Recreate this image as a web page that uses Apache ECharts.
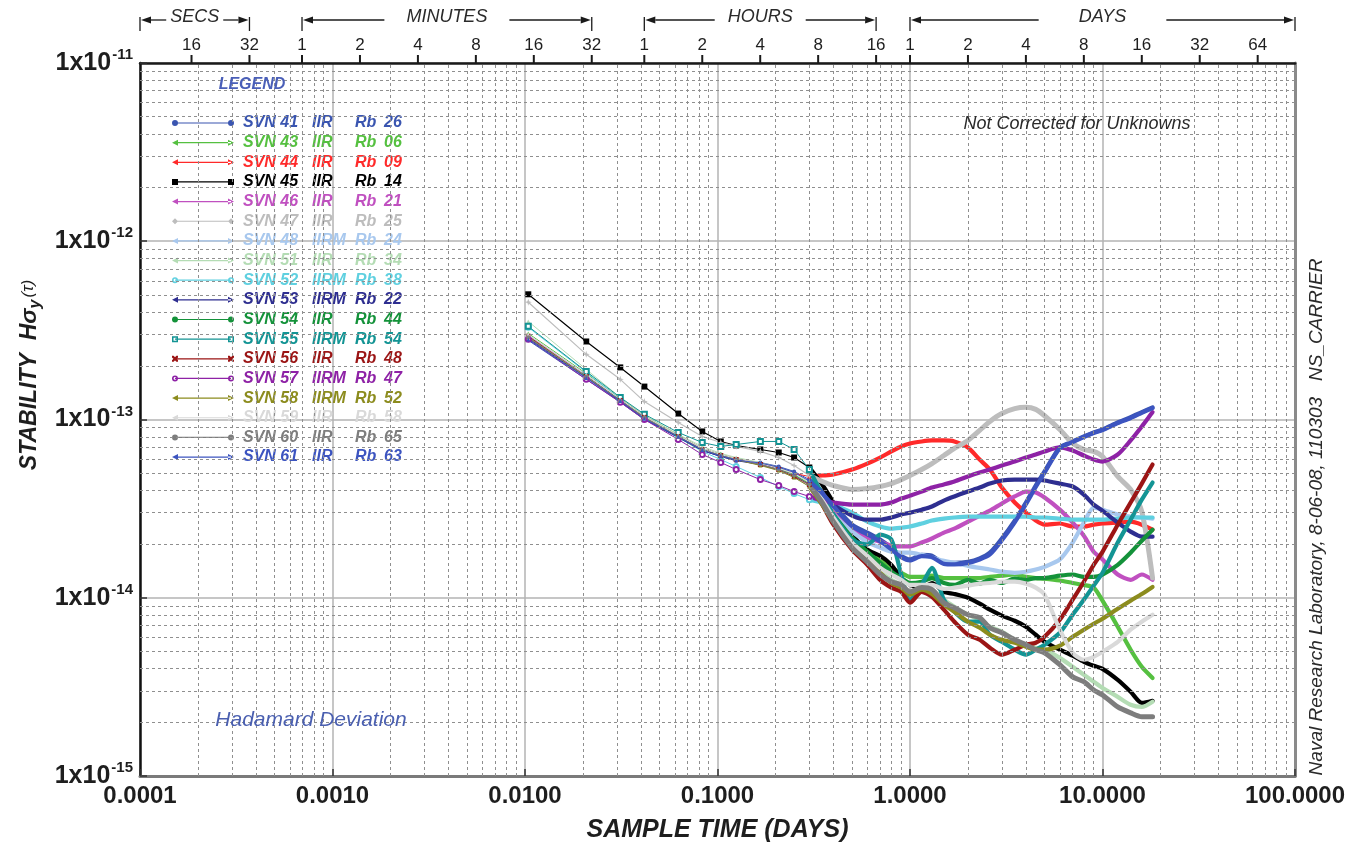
<!DOCTYPE html>
<html>
<head>
<meta charset="utf-8">
<title>Hadamard Deviation – GPS Rb clocks</title>
<script src="https://cdn.jsdelivr.net/npm/echarts@6/dist/echarts.min.js"></script>
<style>
  html, body { margin: 0; padding: 0; background: #ffffff; }
  #chart { width: 1351px; height: 848px; }
</style>
</head>
<body>
<div id="chart"></div>
<script>
// ---------------------------------------------------------------------------
// Data: Hadamard deviation per satellite clock, in units of 1e-15,
// sampled at the averaging times in TAU (days).
// ---------------------------------------------------------------------------
const UNIT = 1e-15;

const TAU = [0.0104, 0.0208, 0.03125, 0.0417, 0.0625, 0.0833, 0.104, 0.125, 0.167, 0.208, 0.25,
             0.3, 0.35, 0.4, 0.5, 0.6, 0.7, 0.8, 0.9, 1.0, 1.15,
             1.3, 1.5, 1.7, 2.0, 2.3, 2.6, 3.0, 3.5, 4.0, 4.5,
             5.0, 6.0, 7.0, 8.0, 9.0, 10, 12, 14, 16, 18.2];
// index in TAU where the densely sampled part of each curve begins
const DENSE_FROM = 11;

const SVN   = ['41', '43', '44', '45', '46', '47', '48', '51', '52', '53', '54', '55', '56', '57', '58', '59', '60', '61'];
const BLOCK = ['IIR', 'IIR', 'IIR', 'IIR', 'IIR', 'IIR', 'IIRM', 'IIR', 'IIRM', 'IIRM', 'IIR', 'IIRM', 'IIR', 'IIRM', 'IIRM', 'IIR', 'IIR', 'IIR'];
const RB    = ['26', '06', '09', '14', '21', '25', '24', '34', '38', '22', '44', '54', '48', '47', '52', '58', '65', '63'];

const svn41 = [278,168,125,100,79.3,67.0,62.0,58.8,57.4,54.5,51.1, 46.0,39.4,33.3,25.7,23.2,21.2,19.1,17.2,16.4,17.4, 17.2,15.7,15.7,15.9,16.6,17.9,21.5,27.1,34.2,42.6, 51.1,69.7,75.3,80.3,84.6,87.9,96.3,103,110,117];
const svn43 = [304,181,131,105,82.4,68.8,63.6,60.4,56.6,53.1,49.1, 43.7,35.5,29.3,21.7,18.6,16.4,14.7,13.8,13.1,13.1, 13.3,12.9,12.9,12.9,12.9,13.1,13.3,13.5,13.1,12.9, 12.8,12.5,12.1,11.8,11.4,9.63,6.88,5.11,4.10,3.55];
const svn44 = [297,177,130,104,81.4,68.8,63.6,60.4,56.6,53.8,49.8, 47.9,48.5,49.1,52.4,56.6,61.2,66.2,70.6,73.4,75.3, 76.3,76.3,75.3,69.7,59.6,52.4,41.5,34.2,30.0,27.1, 25.7,26.1,25.1,25.1,25.7,26.1,26.4,26.7,25.7,24.1];
const svn45 = [504,274,196,153,108,85.7,75.3,71.5,67.9,65.3,61.2, 53.8,43.2,34.2,22.6,18.6,17.2,15.3,12.9,11.8,11.4, 12.1,10.8,10.5,10.0,9.26,8.57,7.93,7.43,6.88,6.20, 5.66,5.11,4.73,4.37,4.15,3.99,3.46,2.97,2.57,2.64];
const svn46 = [289,174,128,103,80.3,67.9,62.8,59.6,55.9,52.4,47.9, 42.1,35.5,30.0,24.1,21.7,20.6,19.6,19.4,19.4,20.4, 21.5,23.2,24.4,26.7,28.9,30.8,33.8,37.0,39.4,38.9, 36.5,31.2,26.4,22.3,18.1,16.4,13.5,12.6,13.5,12.6];
const svn47 = [455,232,168,126,96.3,80.3,74.3,70.6,66.2,61.2,55.2, 48.5,44.9,42.6,40.5,41.0,42.1,43.7,46.0,48.5,52.4, 56.6,62.8,68.8,76.3,86.8,97.5,108,115,117,114, 105,87.9,73.4,67.9,66.2,62.0,47.9,40.5,30.4,12.9];
const svn48 = [297,177,130,104,81.4,68.8,63.6,59.6,55.9,51.7,47.3, 42.1,34.6,29.3,23.5,20.6,19.1,18.1,17.9,17.9,17.4, 16.8,16.1,15.7,15.1,14.7,14.4,14.0,13.8,14.0,14.4, 14.9,16.4,20.4,26.4,32.0,31.2,29.3,28.5,28.2,27.8];
const svn51 = [355,191,133,105,82.4,70.6,64.5,61.2,57.4,53.8,49.8, 44.3,35.5,27.4,19.9,16.4,14.0,12.6,11.8,10.8,11.4, 11.1,9.75,8.91,8.03,7.53,6.88,6.45,5.81,5.45,5.24, 5.11,4.60,4.10,3.70,3.38,3.12,2.78,2.51,2.44,2.61];
const svn52 = [329,184,130,103,79.3,66.2,59.6,54.5,47.3,42.1,38.4, 35.5,34.2,33.3,30.0,26.7,25.1,24.4,24.7,25.1,26.1, 27.1,27.8,28.2,28.5,28.5,28.5,28.5,28.5,28.5,28.2, 28.2,27.8,27.4,27.4,27.4,27.4,27.8,28.2,28.2,28.2];
const svn53 = [285,172,126,101,79.3,67.0,62.0,58.8,55.9,52.4,48.5, 43.2,37.9,33.3,28.9,27.4,27.4,28.2,29.3,30.0,31.2, 32.5,35.1,37.0,39.4,41.5,43.7,45.5,46.0,46.0,46.0, 45.5,43.7,42.1,37.9,33.3,30.8,26.4,23.5,22.0,22.0];
const svn54 = [289,174,128,103,80.3,67.9,63.6,59.6,55.9,52.4,48.5, 43.2,35.5,29.3,21.7,18.1,15.7,14.0,12.9,12.1,12.3, 12.9,12.1,11.8,12.6,12.0,12.6,12.1,12.8,12.6,12.9, 12.9,13.3,13.5,13.1,13.1,13.5,15.3,17.9,20.9,24.1];
const svn55 = [333,186,133,107,84.6,74.3,70.6,72.4,75.3,75.3,67.9, 52.4,37.9,29.3,21.2,19.9,22.6,21.2,13.5,9.75,11.8, 14.7,9.75,8.35,7.34,7.34,6.20,5.66,5.11,4.79,5.11, 5.45,6.36,8.03,9.75,11.7,13.8,20.4,27.4,35.5,44.3];
const svn56 = [293,174,128,103,80.3,67.9,62.8,59.6,55.9,52.4,47.9, 43.2,33.3,25.7,18.6,15.3,12.6,11.4,10.8,9.38,10.8, 10.1,8.57,7.34,6.20,5.81,5.24,4.79,5.11,5.45,5.59, 6.04,7.53,9.75,12.3,15.3,18.1,25.7,34.2,43.7,55.9];
const svn57 = [282,168,125,100,77.3,63.6,57.4,52.4,46.0,42.6,39.4, 37.0,35.1,34.2,33.3,33.3,33.3,34.2,36.0,37.4,39.4, 41.5,43.2,44.9,47.9,50.4,52.4,55.2,58.1,61.2,63.6, 66.2,69.7,67.0,62.8,59.6,58.1,63.6,76.3,91.4,110];
const svn58 = [289,174,128,103,80.3,67.9,62.8,59.6,55.2,51.7,47.3, 42.1,33.3,26.7,19.9,16.4,13.8,12.1,11.4,10.4,11.1, 10.5,9.14,8.35,7.34,6.79,6.20,5.81,5.59,5.31,5.11, 5.11,5.38,6.04,6.62,7.15,7.63,8.68,9.63,10.5,11.5];
const svn59 = [300,179,130,104,81.4,68.8,63.6,60.4,56.6,53.1,49.8, 44.9,35.5,28.2,20.4,17.2,14.7,13.5,12.6,11.8,11.8, 11.8,11.2,11.4,11.7,12.0,12.1,12.3,12.3,12.0,11.4, 10.4,6.62,4.91,4.49,4.66,4.98,5.66,6.62,7.34,8.03];
const svn60 = [289,174,128,103,80.3,67.9,62.8,59.6,55.9,52.4,48.5, 43.2,34.2,26.7,19.1,15.9,13.5,12.3,11.8,10.8,11.4, 11.1,9.38,8.79,8.03,7.73,6.79,6.36,5.81,5.45,5.11, 4.91,4.21,3.60,3.38,3.04,2.85,2.44,2.26,2.15,2.15];
const svn61 = [281,171,127,101,80.0,67.5,62.5,59.2,57.0,54.0,50.5, 45.2,38.6,32.6,25.2,22.7,20.7,18.7,16.9,16.2,17.1, 16.9,15.5,15.4,15.7,16.4,17.5,21.0,26.5,33.5,41.8, 50.3,69.0,74.8,79.8,84.0,87.3,95.5,102,109,116];

const VALUES = [svn41, svn43, svn44, svn45, svn46, svn47, svn48, svn51, svn52, svn53,
                svn54, svn55, svn56, svn57, svn58, svn59, svn60, svn61];

// Upper scale: sample time in seconds, minutes, hours and days
const TOP_SECS  = [16, 32];
const TOP_MINS  = [1, 2, 4, 8, 16, 32];
const TOP_HOURS = [1, 2, 4, 8, 16];
const TOP_DAYS  = [1, 2, 4, 8, 16, 32, 64];

// ---------------------------------------------------------------------------
// Styling
// ---------------------------------------------------------------------------
const FONT = "'Liberation Sans', Arial, Helvetica, sans-serif";

const COLORS = ['#3a55b0', '#55c040', '#ff2a2a', '#000000', '#c050c0', '#bdbdbd', '#a8c8ee', '#b4dcb4', '#5fd0e0',
                '#2e2e90', '#14923a', '#139494', '#9b1515', '#8e22a6', '#8c8c1e', '#d9d9d9', '#7d7d7d', '#3c54c0'];
const MARKS  = ['dot', 'tri', 'tri', 'square', 'tri', 'star', 'tri', 'tri', 'ringC',
                'tri', 'dot', 'ringS', 'cross', 'ringC', 'tri', 'tri', 'dot', 'tri'];

const ringCircle = (ox) => `M${ox},3A3,3 0 1,1 ${ox + 6},3A3,3 0 1,1 ${ox},3Z M${ox + 1.6},3A1.4,1.4 0 1,0 ${ox + 4.4},3A1.4,1.4 0 1,0 ${ox + 1.6},3Z`;
const ringSquare = (ox) => `M${ox},0H${ox + 6}V6H${ox}Z M${ox + 1.5},1.5V4.5H${ox + 4.5}V1.5Z`;
const crossMark  = (ox) => `M${ox},0H${ox + 1.6}L${ox + 6},4.4V6H${ox + 4.4}L${ox},1.6Z M${ox + 6},0V1.6L${ox + 1.6},6H${ox}V4.4L${ox + 4.4},0Z`;

const MARK_STYLE = {
  dot:    { symbol: 'circle', size: 4, ends: 'M0,3A3,3 0 1,1 6,3A3,3 0 1,1 0,3Z M56,3A3,3 0 1,1 62,3A3,3 0 1,1 56,3Z' },
  tri:    { symbol: 'triangle', size: 4, ends: 'M0,3L6,0V6Z M62,3L56,0V6Z' },
  square: { symbol: 'rect', size: 6, ends: 'M0,0H6V6H0Z M56,0H62V6H56Z' },
  star:   { symbol: 'path://M5,0L6.2,3.8L10,5L6.2,6.2L5,10L3.8,6.2L0,5L3.8,3.8Z', size: 7, ends: 'M0,3L3,0L6,3L3,6Z M56,3L59,0L62,3L59,6Z' },
  ringC:  { symbol: 'emptyCircle', size: 5, ends: ringCircle(0) + ' ' + ringCircle(56) },
  ringS:  { symbol: 'emptyRect', size: 5, ends: ringSquare(0) + ' ' + ringSquare(56) },
  cross:  { symbol: 'path://' + crossMark(0), size: 5, ends: crossMark(0) + ' ' + crossMark(56) }
};
const LEGEND_BAR = 'M3,2.4H59V3.6H3Z ';

const NAMES = SVN.map((s, i) => `SVN ${s} ${BLOCK[i]} Rb ${RB[i]}`);

// ---------------------------------------------------------------------------
// Series
// ---------------------------------------------------------------------------
const minorX = [];
for (let e = -4; e < 2; e++) for (let k = 2; k <= 9; k++) minorX.push(k * Math.pow(10, e));
const minorY = [];
for (let e = -15; e < -11; e++) for (let k = 2; k <= 9; k++) minorY.push(k * Math.pow(10, e));

const series = [{
  type: 'line',
  name: 'minor grid',
  data: [],
  silent: true,
  z: 1,
  markLine: {
    silent: true,
    animation: false,
    precision: 20,
    symbol: ['none', 'none'],
    label: { show: false },
    lineStyle: { type: [3, 3], color: '#8f8f8f', width: 1 },
    emphasis: { disabled: true },
    data: minorX.map(v => ({ xAxis: v })).concat(minorY.map(v => ({ yAxis: v })))
  }
}];

VALUES.forEach((vals, i) => {
  const pts = vals.map((v, k) => [TAU[k], v * UNIT]);
  const m = MARK_STYLE[MARKS[i]];
  const color = COLORS[i];
  const isBig = (SVN[i] === '45' || SVN[i] === '47');
  // sparse, individually marked part
  series.push({
    type: 'line', name: NAMES[i], z: 3,
    data: pts.slice(0, DENSE_FROM + 1),
    symbol: m.symbol, symbolSize: m.size, showSymbol: true,
    lineStyle: { color, width: isBig ? 1.2 : 1 },
    itemStyle: { color, borderWidth: 1 },
    emphasis: { disabled: true }
  });
  // densely sampled part (overlapping markers read as a thick trace)
  series.push({
    type: 'line', name: NAMES[i], z: 3,
    data: pts.slice(DENSE_FROM),
    showSymbol: false, symbol: 'none', smooth: 0.25,
    lineStyle: { color, width: (SVN[i] === '47' || SVN[i] === '60') ? 5 : 4.2, cap: 'round', join: 'round' },
    itemStyle: { color },
    emphasis: { disabled: true }
  });
});

// Legend text columns, one rich style set per entry so every entry keeps its colour
const legendRich = {};
NAMES.forEach((n, i) => {
  const base = { fontSize: 16, fontWeight: 'bold', fontStyle: 'italic', fontFamily: FONT, color: COLORS[i], lineHeight: 14 };
  legendRich['a' + i] = Object.assign({ width: 69, padding: [0, 0, 0, 4] }, base);
  legendRich['b' + i] = Object.assign({ width: 43 }, base);
  legendRich['c' + i] = Object.assign({ width: 29 }, base);
  legendRich['d' + i] = Object.assign({}, base);
});

const option = {
  animation: false,
  backgroundColor: '#ffffff',
  grid: { left: 140, right: 56, top: 63, bottom: 72, containLabel: false, outerBoundsMode: 'none' },
  legend: {
    orient: 'vertical', left: 172, top: 115, padding: 0,
    itemWidth: 62, itemHeight: 6, itemGap: 3.65,
    selectedMode: false,
    itemStyle: { borderWidth: 0 },
    data: NAMES.map((n, i) => ({ name: n, icon: 'path://' + LEGEND_BAR + MARK_STYLE[MARKS[i]].ends })),
    formatter: name => {
      const i = NAMES.indexOf(name);
      return `{a${i}|SVN ${SVN[i]}}{b${i}|${BLOCK[i]}}{c${i}|Rb}{d${i}|${RB[i]}}`;
    },
    textStyle: { fontSize: 16, fontWeight: 'bold', fontStyle: 'italic', fontFamily: FONT, lineHeight: 14, rich: legendRich }
  },
  xAxis: [{
    type: 'log', logBase: 10, min: 1e-4, max: 100, splitNumber: 6, position: 'bottom',
    axisLine: { show: true, onZero: false, lineStyle: { color: '#7a7a7a', width: 3 } },
    axisTick: { show: true, inside: true, length: 7, lineStyle: { color: '#333', width: 1.5 } },
    axisLabel: { formatter: v => v.toFixed(4), fontSize: 24, fontWeight: 'bold', color: '#1e1e1e', fontFamily: FONT, margin: 8 },
    splitLine: { show: true, lineStyle: { color: '#b3b3b3', width: 1.5 } },
    name: 'SAMPLE TIME (DAYS)', nameLocation: 'middle', nameGap: 42, nameMoveOverlap: false,
    nameTextStyle: { fontSize: 25, fontWeight: 'bold', fontStyle: 'italic', color: '#1e1e1e', fontFamily: FONT }
  }, {
    type: 'log', logBase: 10, min: 1e-4, max: 100, position: 'top',
    axisLine: { show: true, onZero: false, lineStyle: { color: '#1a1a1a', width: 2.5 } },
    axisTick: { show: false }, axisLabel: { show: false }, splitLine: { show: false }
  }],
  yAxis: [{
    type: 'log', logBase: 10, min: 1e-15, max: 1e-11, splitNumber: 4,
    axisLine: { show: true, onZero: false, lineStyle: { color: '#111', width: 2.5 } },
    axisTick: { show: true, inside: true, length: 7, lineStyle: { color: '#333', width: 1.5 } },
    axisLabel: {
      margin: 7,
      formatter: v => `{m|1x10}{e|${Math.round(Math.log10(v))}}`,
      rich: {
        m: { fontSize: 25, fontWeight: 'bold', color: '#1e1e1e', fontFamily: FONT },
        e: { fontSize: 15, fontWeight: 'bold', color: '#1e1e1e', fontFamily: FONT, padding: [0, 0, 16, 1] }
      }
    },
    splitLine: { show: true, lineStyle: { color: '#b3b3b3', width: 1.5 } }
  }, {
    type: 'log', logBase: 10, min: 1e-15, max: 1e-11, position: 'right',
    axisLine: { show: true, onZero: false, lineStyle: { color: '#8a8a8a', width: 3 } },
    axisTick: { show: false }, axisLabel: { show: false }, splitLine: { show: false }
  }],
  series
};

const chart = echarts.init(document.getElementById('chart'), null, { renderer: 'canvas' });
chart.setOption(option);

// ---------------------------------------------------------------------------
// Upper time scale, brackets and annotations
// ---------------------------------------------------------------------------
const xp = v => chart.convertToPixel({ xAxisIndex: 0 }, v);
const yp = v => chart.convertToPixel({ yAxisIndex: 0 }, v);
const topY = yp(1e-11);

const measure = (() => {
  const ctx = document.createElement('canvas').getContext('2d');
  return (text, font) => { ctx.font = font; return ctx.measureText(text).width; };
})();

const topTicks = []
  .concat(TOP_SECS.map(s => ({ days: s / 86400, label: String(s) })))
  .concat(TOP_MINS.map(m => ({ days: m / 1440, label: String(m) })))
  .concat(TOP_HOURS.map(h => ({ days: h / 24, label: String(h) })))
  .concat(TOP_DAYS.map(d => ({ days: d, label: String(d) })));

const SPANS = [
  { label: 'SECS',    from: 1e-4,   to: 32 / 86400, gap: 4 },
  { label: 'MINUTES', from: 1 / 1440, to: 32 / 1440, gap: 22 },
  { label: 'HOURS',   from: 1 / 24,  to: 16 / 24,   gap: 13 },
  { label: 'DAYS',    from: 1,       to: 100,       gap: 40 }
];

const g = [];
const lineEl = (x1, y1, x2, y2, w, c) => ({ type: 'line', silent: true, z: 10,
  shape: { x1, y1, x2, y2 }, style: { stroke: c || '#1a1a1a', lineWidth: w || 1.3 } });
const textEl = (x, y, text, font, fill, extra) => Object.assign({ type: 'text', silent: true, z: 10, x, y,
  style: { text, font, fill: fill || '#1e1e1e', align: 'center', verticalAlign: 'middle' } }, extra || {});

topTicks.forEach(t => {
  const x = xp(t.days);
  g.push(lineEl(x, topY - 8, x, topY, 2));
  g.push(textEl(x, 45, t.label, `17px ${FONT}`));
});

const spanFont = `italic 18px ${FONT}`;
SPANS.forEach(s => {
  const xl = xp(s.from), xr = xp(s.to), cx = (xl + xr) / 2, ay = 20;
  const w = measure(s.label, spanFont);
  g.push(lineEl(xl, 17, xl, 31, 1.3));
  g.push(lineEl(xr, 17, xr, 31, 1.3));
  g.push({ type: 'polygon', silent: true, z: 10, shape: { points: [[xl + 1, ay], [xl + 11, ay - 3.5], [xl + 11, ay + 3.5]] }, style: { fill: '#1a1a1a' } });
  g.push({ type: 'polygon', silent: true, z: 10, shape: { points: [[xr - 1, ay], [xr - 11, ay - 3.5], [xr - 11, ay + 3.5]] }, style: { fill: '#1a1a1a' } });
  g.push(lineEl(xl + 11, ay, cx - w / 2 - s.gap, ay, 1.3));
  g.push(lineEl(cx + w / 2 + s.gap, ay, xr - 11, ay, 1.3));
  g.push(textEl(cx, 17, s.label, spanFont, '#2a2a2a'));
});

// legend heading and notes
g.push(textEl(252, 85, 'LEGEND', `italic bold 16px ${FONT}`, '#4a5fb8'));
g.push(textEl(1077, 124, 'Not Corrected for Unknowns', `italic 18px ${FONT}`, '#2a2a2a'));
g.push(textEl(311, 720, 'Hadamard Deviation', `italic 21px ${FONT}`, '#4a5fb0'));

// y-axis title
g.push({
  type: 'text', silent: true, z: 10, x: 30, y: 375, rotation: Math.PI / 2,
  style: {
    text: '{a|STABILITY  Hσ}{b|y}{c|(τ)}',
    align: 'center', verticalAlign: 'middle',
    rich: {
      a: { fontSize: 23, fontWeight: 'bold', fontStyle: 'italic', fontFamily: FONT, fill: '#1e1e1e' },
      b: { fontSize: 16, fontWeight: 'bold', fontStyle: 'italic', fontFamily: FONT, fill: '#1e1e1e', padding: [12, 0, 0, 0] },
      c: { fontSize: 17, fontStyle: 'italic', fontFamily: FONT, fill: '#1e1e1e', padding: [0, 0, 4, 2] }
    }
  }
});

// credit line along the right edge
g.push(textEl(1317, 517, 'Naval Research Laboratory, 8-06-08, 110303   NS_CARRIER', `italic 19px ${FONT}`, '#2a2a2a',
  { rotation: Math.PI / 2 }));

chart.setOption({ graphic: g });
</script>
</body>
</html>
